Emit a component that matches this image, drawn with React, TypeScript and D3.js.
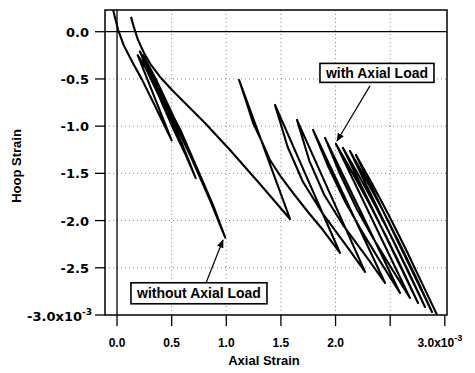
import React from 'react';
import * as d3 from 'd3';

// strains in units of 1e-3
const xTicks = [0, 0.5, 1.0, 1.5, 2.0, 2.5, 3.0];
const xTickLabels = ['0.0', '0.5', '1.0', '1.5', '2.0', '', '3.0'];
const yTicks = [0, -0.5, -1.0, -1.5, -2.0, -2.5, -3.0];
const yTickLabels = ['0.0', '-0.5', '-1.0', '-1.5', '-2.0', '-2.5', '-3.0'];

// test without axial load: loading / unloading loops
const withoutLoad: [number, number][] = [
  [-0.04, 0.25], [0.01, 0.02], [0.06, -0.14], [0.14, -0.32], [0.23, -0.51], [0.32, -0.72], [0.42, -0.96], [0.50, -1.15],
  [0.39, -0.83], [0.28, -0.51], [0.19, -0.25],
  [0.26, -0.38], [0.38, -0.67], [0.50, -0.99], [0.63, -1.31], [0.72, -1.55],
  [0.60, -1.20], [0.44, -0.78], [0.28, -0.41], [0.21, -0.21],
  [0.30, -0.43], [0.44, -0.75], [0.58, -1.09], [0.71, -1.41], [0.83, -1.73], [0.90, -1.91],
  [0.76, -1.52], [0.58, -1.04], [0.39, -0.62], [0.24, -0.25],
  [0.35, -0.49], [0.49, -0.83], [0.62, -1.17], [0.76, -1.52], [0.88, -1.84], [0.99, -2.18],
  [0.85, -1.78], [0.67, -1.31], [0.49, -0.85],
];

// test with axial load: sawtooth cycles
const withLoad: [number, number][] = [
  [0.128, 0.157], [0.156, 0.040], [0.192, -0.087], [0.247, -0.225], [0.311, -0.352], [0.394, -0.479],
  [0.503, -0.617], [0.631, -0.765], [0.805, -0.966], [1.034, -1.252], [1.308, -1.612], [1.583, -1.983],
  [1.117, -0.511], [1.181, -0.733], [1.245, -0.966], [1.327, -1.167], [1.400, -1.358], [1.501, -1.538],
  [1.611, -1.708], [1.748, -1.909], [1.885, -2.100], [2.041, -2.343],
  [1.446, -0.775], [1.561, -1.218], [1.701, -1.589], [1.883, -1.926], [2.130, -2.315], [2.270, -2.544],
  [1.647, -0.934], [1.760, -1.367], [1.897, -1.729], [2.074, -2.057], [2.315, -2.436], [2.453, -2.661],
  [1.794, -1.040], [1.937, -1.438], [2.088, -1.800], [2.248, -2.128], [2.431, -2.474], [2.590, -2.767],
  [1.904, -1.125], [2.044, -1.515], [2.192, -1.871], [2.347, -2.193], [2.526, -2.532], [2.681, -2.820],
  [2.004, -1.189], [2.154, -1.492], [2.304, -1.811], [2.454, -2.148], [2.605, -2.502], [2.755, -2.873],
  [2.068, -1.231], [2.218, -1.534], [2.368, -1.854], [2.519, -2.191], [2.669, -2.544], [2.819, -2.915],
  [2.132, -1.263], [2.282, -1.570], [2.433, -1.894], [2.583, -2.235], [2.733, -2.593], [2.883, -2.968],
  [2.187, -1.305], [2.336, -1.612], [2.484, -1.936], [2.632, -2.278], [2.780, -2.636], [2.929, -3.0],
];

const annotations = [
  { text: 'with Axial Load', box: [2.379, -0.436], w: 114, h: 19, from: [2.315, -0.574], to: [2.013, -1.157] },
  { text: 'without Axial Load', box: [0.750, -2.770], w: 136, h: 21, from: [0.815, -2.659], to: [0.970, -2.206] },
];

const FONT = '"Liberation Sans", Arial, Helvetica, sans-serif';
const WIDE = '"DejaVu Sans", Verdana, sans-serif';

export default function App() {
  const x = d3.scaleLinear().domain([-0.11, 3.02]).range([105, 447]);
  const y = d3.scaleLinear().domain([-3.0, 0.23]).range([315, 10]);
  const line = d3.line<[number, number]>().x(d => x(d[0])).y(d => y(d[1]));

  const [x0, x1] = x.range();
  const [y0, y1] = y.range();

  return (
    <svg width={475} height={373} style={{ position: 'absolute', left: 0, top: 0, background: '#fff' }}
      fontFamily={FONT}>
      <defs>
        <clipPath id="plot">
          <rect x={x0} y={y1} width={x1 - x0} height={y0 - y1} />
        </clipPath>
        <marker id="arrow" viewBox="0 0 10 10" refX="9" refY="5" markerWidth="7" markerHeight="7" orient="auto">
          <path d="M0,1 L10,5 L0,9 z" fill="#000" />
        </marker>
      </defs>

      {/* dotted grid */}
      {xTicks.filter(t => t > 0 && t < 3).map(t => (
        <line key={'gx' + t} x1={x(t)} x2={x(t)} y1={y1} y2={y0} stroke="#888" strokeWidth={1} strokeDasharray="1,3" />
      ))}
      {yTicks.filter(t => t < 0 && t > -3).map(t => (
        <line key={'gy' + t} x1={x0} x2={x1} y1={y(t)} y2={y(t)} stroke="#888" strokeWidth={1} strokeDasharray="1,3" />
      ))}

      {/* zero lines */}
      <line x1={x(0)} x2={x(0)} y1={y1} y2={y0} stroke="#000" strokeWidth={1.3} />
      <line x1={x0} x2={x1} y1={y(0)} y2={y(0)} stroke="#000" strokeWidth={1.3} />

      <g clipPath="url(#plot)" fill="none" stroke="#000" strokeWidth={2.1} strokeLinejoin="round">
        <path d={line(withoutLoad) || ''} />
        <path d={line(withLoad) || ''} />
      </g>

      {/* frame */}
      <rect x={x0} y={y1} width={x1 - x0} height={y0 - y1} fill="none" stroke="#000" strokeWidth={1.5} />

      {/* y axis */}
      {yTicks.map((t, i) => (
        <g key={'yt' + t}>
          <line x1={x0 - 10} x2={x0} y1={y(t)} y2={y(t)} stroke="#000" strokeWidth={1.3} />
          {i === yTicks.length - 1 ? (
            <text x={92} y={y(t) + 6} textAnchor="end" fontSize={13} fontWeight="bold" fontFamily={WIDE}>
              {yTickLabels[i]}x10<tspan dy={-6} fontSize={9}>-3</tspan>
            </text>
          ) : (
            <text x={89} y={y(t) + 5} textAnchor="end" fontSize={13} fontWeight="bold" fontFamily={WIDE}>{yTickLabels[i]}</text>
          )}
        </g>
      ))}

      {/* x axis */}
      {xTicks.map((t, i) => (
        <g key={'xt' + t}>
          <line x1={x(t)} x2={x(t)} y1={y0} y2={y0 + 11} stroke="#000" strokeWidth={1.3} />
          {i === xTicks.length - 1 ? (
            <text x={x(t) - 5} y={347} textAnchor="middle" fontSize={12} fontWeight="bold">
              {xTickLabels[i]}x10<tspan dy={-6} fontSize={9}>-3</tspan>
            </text>
          ) : (
            <text x={x(t)} y={347} textAnchor="middle" fontSize={12} fontWeight="bold">{xTickLabels[i]}</text>
          )}
        </g>
      ))}

      <text x={264} y={365} textAnchor="middle" fontSize={13} fontWeight="bold">Axial Strain</text>
      <text transform="translate(21,166) rotate(-90)" textAnchor="middle" fontSize={13} fontWeight="bold">Hoop Strain</text>

      {/* annotations */}
      {annotations.map(a => (
        <g key={a.text}>
          <line x1={x(a.from[0])} y1={y(a.from[1])} x2={x(a.to[0])} y2={y(a.to[1])}
            stroke="#000" strokeWidth={1.2} markerEnd="url(#arrow)" />
          <rect x={x(a.box[0]) - a.w / 2} y={y(a.box[1]) - a.h / 2} width={a.w} height={a.h}
            fill="#fff" stroke="#000" strokeWidth={1.6} />
          <text x={x(a.box[0])} y={y(a.box[1]) + 5} textAnchor="middle" fontSize={14} fontWeight="bold">{a.text}</text>
        </g>
      ))}
    </svg>
  );
}
